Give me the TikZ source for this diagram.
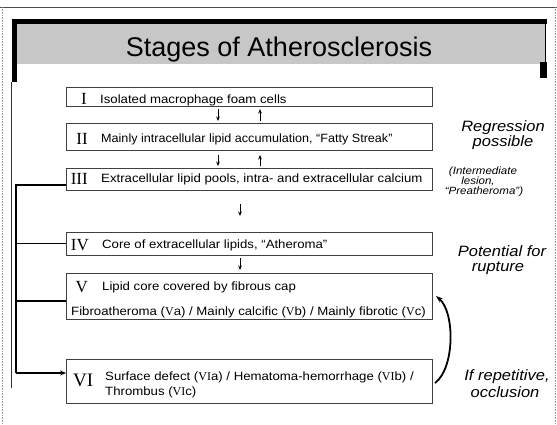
\documentclass[tikz,border=0pt]{standalone}
\usepackage{fontspec}
\usetikzlibrary{arrows.meta}
\newfontfamily\sansbody{Liberation Sans}[FakeStretch=1.1]
\newfontfamily\sanstight{Liberation Sans}[FakeStretch=1.05]
\newfontfamily\headfont{Liberation Sans}
\newfontfamily\romfont{Liberation Serif}

\begin{document}
\begin{tikzpicture}[x=1pt,y=-1pt,
  stagebox/.style={draw=black!75, line width=0.8pt, inner sep=0pt, outer sep=0pt,
    anchor=north west, minimum width=366pt},
  numeral/.style={inner sep=0pt, anchor=base east, font=\romfont\fontsize{17}{19}\selectfont},
  txt/.style={inner sep=0pt, anchor=base west, font=\sansbody\fontsize{12}{14}\selectfont},
  side/.style={inner sep=0pt, anchor=base, font=\sansbody\itshape\fontsize{15}{17}\selectfont},
  note/.style={inner sep=0pt, anchor=base, font=\sansbody\itshape\fontsize{10.5}{12}\selectfont},
  arr/.style={-{Stealth[length=4.5pt,width=3.6pt]}, line width=0.9pt},
  link/.style={line width=1.4pt},
  recur/.style={-{Stealth[length=7pt,width=5pt]}, line width=1.8pt}
]
\useasboundingbox (0,0) rectangle (557,424);

% outer page edges
\draw[black!70, line width=0.6pt] (0,7) -- (557,7);
\draw[black!40, line width=0.6pt, densely dotted] (2,7) -- (2,424);
\draw[black!40, line width=0.6pt, densely dotted] (555,7) -- (555,424);

% title band
\fill[black!22] (17,24) rectangle (545.5,64);
\fill[black] (12,19) rectangle (546.5,24);
\fill[black] (12,19) rectangle (17,82);
\draw[black, line width=0.9pt] (545.5,19) -- (545.5,62);
\fill[black] (540,62) rectangle (546.5,78);
\draw[black!80, line width=0.8pt] (11.5,82) -- (11.5,388);
\node[inner sep=0pt, anchor=base, font=\headfont\fontsize{27}{30}\selectfont] (title) at (279,56) {Stages of Atherosclerosis};

% stage boxes
\node[stagebox, minimum height=19pt] (b1) at (66,87) {};
\node[stagebox, minimum height=27pt] (b2) at (66,123) {};
\node[stagebox, minimum height=22pt] (b3) at (66,168) {};
\node[stagebox, minimum height=23pt] (b4) at (66,232) {};
\node[stagebox, minimum height=46pt] (b5) at (66,273) {};
\node[stagebox, minimum height=44pt] (b6) at (66,359) {};

% stage labels
\node[numeral] (n1) at (87,104) {I};
\node[txt] (t1) at (100,103) {Isolated macrophage foam cells};
\node[numeral] (n2) at (88,144) {II};
\node[txt, font=\sanstight\fontsize{12}{14}\selectfont] (t2) at (101,142) {Mainly intracellular lipid accumulation, “Fatty Streak”};
\node[numeral] (n3) at (88,184) {III};
\node[txt] (t3) at (101,182) {Extracellular lipid pools, intra- and extracellular calcium};
\node[numeral] (n4) at (89,250) {IV};
\node[txt] (t4) at (102,248) {Core of extracellular lipids, “Atheroma”};
\node[numeral] (n5) at (88,292) {V};
\node[txt] (t5a) at (102,290) {Lipid core covered by fibrous cap};
\node[txt] (t5b) at (71,315) {Fibroatheroma ({\romfont V}a) / Mainly calcific ({\romfont V}b) / Mainly fibrotic ({\romfont V}c)};
\node[numeral, anchor=base west, font=\romfont\fontsize{19}{21}\selectfont] (n6) at (73,386) {VI};
\node[txt] (t6a) at (105,380) {Surface defect ({\romfont VI}a) / Hematoma-hemorrhage ({\romfont VI}b) /};
\node[txt] (t6b) at (105,395) {Thrombus ({\romfont VI}c)};

% progression / regression arrows
\draw[arr, shorten <=3pt, shorten >=2pt] ([xshift=152pt]b1.south west) -- ([xshift=152pt]b2.north west);
\draw[arr, shorten <=2pt, shorten >=3pt] ([xshift=194pt]b2.north west) -- ([xshift=194pt]b1.south west);
\draw[arr, shorten <=5pt, shorten >=2pt] ([xshift=152pt]b2.south west) -- ([xshift=152pt]b3.north west);
\draw[arr, shorten <=2pt, shorten >=5pt] ([xshift=194pt]b3.north west) -- ([xshift=194pt]b2.south west);
\draw[arr, shorten <=14pt, shorten >=16pt] ([xshift=174pt]b3.south west) -- ([xshift=174pt]b4.north west);
\draw[arr, shorten <=3pt, shorten >=3pt] ([xshift=174pt]b4.south west) -- ([xshift=174pt]b5.north west);

% left bracket from III to VI
\coordinate (spine) at (16,373);
\path ([yshift=-6pt]b3.west) coordinate (in3);
\path ([yshift=-5pt]b5.west) coordinate (in5);
\path ([yshift=8pt]b6.west) coordinate (in6);
\draw[link] (in3) -| (spine);
\draw[link, -{Stealth[length=6pt,width=5pt]}] (spine) -- (in6);
\draw[link] (b4.west) -- (b4.west -| spine);
\draw[link] (in5) -- (in5 -| spine);

% recurrence arrow VI -> V
\draw[recur] ([xshift=3pt,yshift=-2pt]b6.east) .. controls (455,368) and (455,312) .. ([xshift=4pt]b5.east);

% side notes
\node[side] (r1) at (503,131) {Regression};
\node[side] (r2) at (503,146) {possible};
\node[note] (m1) at (483,174) {(Intermediate};
\node[note] (m2) at (478,184) {lesion,};
\node[note] (m3) at (484,194) {“Preatheroma”)};
\node[side] (p1) at (502,256) {Potential for};
\node[side] (p2) at (498,271) {rupture};
\node[side] (o1) at (507,380) {If repetitive,};
\node[side] (o2) at (505,397) {occlusion};
\end{tikzpicture}
\end{document}
